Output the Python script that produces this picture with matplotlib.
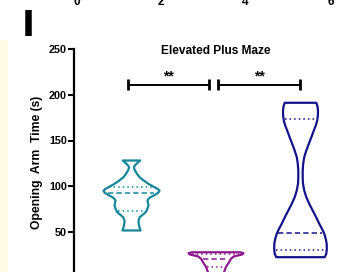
import numpy as np
import matplotlib
matplotlib.use("Agg")
import matplotlib.pyplot as plt
from matplotlib.patches import Rectangle

plt.rcParams['font.family'] = ['Liberation Sans', 'DejaVu Sans']

# groups and colours
groups = ['cyan', 'purple', 'navy']
colors = ['#16879a', '#8c1a8e', '#14148a']
positions = [1, 2, 3]

# violin outlines: value level -> half width (pixels)
cyan_vals = [128.6, 127, 125, 123, 121.3, 119.5, 117.7, 114, 110.3, 106.5, 103, 99.3, 97.5,
             95.7, 93.5, 91, 88.4, 86.5, 84.8, 82, 79.3, 76, 72, 69, 66.4, 63.5, 61, 56, 51.9]
cyan_half = [8.7, 7, 5, 3.3, 2.5, 2.8, 3.5, 5.5, 8, 12.5, 17, 23, 26,
             28, 27, 23.5, 19, 17, 16, 16.5, 17, 16, 14.3, 11, 8.3, 7.2, 7, 7.8, 9]
purple_vals = [28, 27, 25.5, 23.5, 21, 17, 12, 6, 2]
purple_half = [24, 27.5, 26, 18, 15, 13, 10, 8, 7]
navy_vals = [191.9, 188, 183.4, 178, 172.5, 167, 161.5, 154, 146.9, 139.5, 132.2, 125, 117.7,
             110, 103.1, 95.5, 88.4, 81, 73.8, 66.5, 59.2, 53.5, 48.2, 42.5, 37.3, 31.5, 26.3, 22.6]
navy_half = [15.8, 17, 17.5, 17.4, 16.7, 15.3, 13.3, 10.8, 8.3, 5.8, 3.7, 2.7, 2.2,
             2.2, 2.5, 3.8, 5.8, 8.8, 12.2, 15.6, 18.8, 21.6, 23.8, 25.3, 26.2, 26.3, 25.8, 24.2]

# quartiles (upper, median, lower)
q_upper = [98.7, 25.2, 173.2]
q_median = [92.1, 19.7, 48.2]
q_lower = [73.0, 11.6, 29.9]

profiles = [(cyan_vals, cyan_half), (purple_vals, purple_half), (navy_vals, navy_half)]

yticks = [50, 100, 150, 200, 250]
top_labels = ['0', '2', '4', '6']

px_per_unit = 84.5  # horizontal pixels between groups

fig = plt.figure(figsize=(3.46, 2.72), dpi=100)
ax = fig.add_axes([74 / 346, 1 - 277.3 / 272, 1 - 74 / 346, (277.3 - 49.3) / 272])
ax.set_xlim(1 - 57 / px_per_unit, 3 + 46 / px_per_unit)
ax.set_ylim(0, 250)

for pos, col, (vals, half), uq, md, lq in zip(positions, colors, profiles, q_upper, q_median, q_lower):
    v = np.array(vals)
    h = np.array(half) / px_per_unit
    ax.fill_betweenx(v, pos - h, pos + h, facecolor='white', edgecolor=col, lw=1.6,
                     joinstyle='round', zorder=2)
    order = np.argsort(v)
    for q, ls in [(uq, (0, (1, 2))), (md, (0, (3.5, 2))), (lq, (0, (1, 2)))]:
        w = np.interp(q, v[order], h[order]) - 0.02
        ax.plot([pos - w, pos + w], [q, q], color=col, lw=1.1, ls=ls, zorder=3)

# significance bars
for x0, x1 in [(0.968, 1.926), (2.033, 3.0)]:
    ax.plot([x0, x1], [211, 211], color='black', lw=1.4, solid_capstyle='butt')
    for xx in (x0, x1):
        ax.plot([xx, xx], [205, 217.5], color='black', lw=2, solid_capstyle='butt')
    ax.text((x0 + x1) / 2, 212, '**', ha='center', va='bottom', fontsize=10, fontweight='bold')

ax.set_yticks(yticks)
ax.set_yticklabels([str(t) for t in yticks], fontsize=7.8, fontweight='bold')
ax.set_xticks([])
ax.tick_params(axis='y', length=4, width=1.5, pad=1)
for s in ['top', 'right', 'bottom']:
    ax.spines[s].set_visible(False)
ax.spines['left'].set_linewidth(1.6)

fig.text(216 / 346, 1 - 51 / 272, 'Elevated Plus Maze', ha='center', va='center',
         fontsize=8.6, fontweight='bold')
fig.text(37.5 / 346, 1 - 162.5 / 272, 'Opening  Arm  Time (s)', rotation=90,
         ha='center', va='center', fontsize=8.7, fontweight='bold')
fig.text(28 / 346, 1 - 25.5 / 272, 'I', ha='center', va='center', fontsize=25,
         fontweight='bold', family='DejaVu Sans')

# remnants of the panel above
for xp, lab in zip([77, 161, 245.5, 330.5], top_labels):
    fig.text(xp / 346, 1 - 5 / 272, lab, ha='center', va='baseline', fontsize=8.5,
             fontweight='bold')

# beige strip on the left edge
fig.patches.append(Rectangle((0, 0), 7.5 / 346, 1 - 40 / 272, transform=fig.transFigure,
                             facecolor='#fffbe6', edgecolor='none', zorder=0))

fig.savefig('out.png', dpi=100)
